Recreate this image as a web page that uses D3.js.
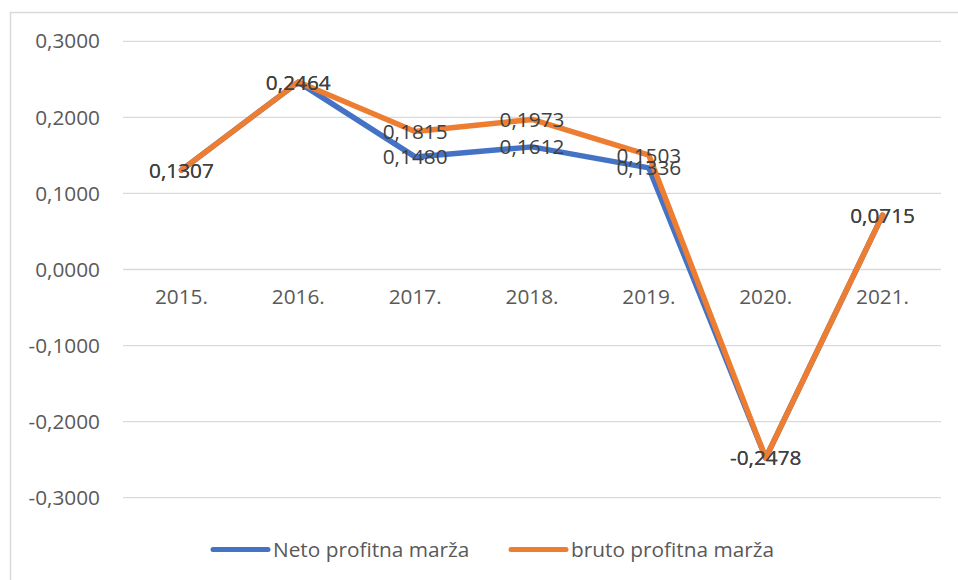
<!DOCTYPE html>
<html><head><meta charset="utf-8">
<script src="https://cdn.jsdelivr.net/npm/d3@7"></script>
<style>body{margin:0;background:#fff}svg{display:block}</style>
</head><body>
<script>
const categories = ["2015.","2016.","2017.","2018.","2019.","2020.","2021."];
const netoValues = [0.1307,0.2464,0.1480,0.1612,0.1336,-0.2478,0.0715];
const brutoValues = [0.1307,0.2464,0.1815,0.1973,0.1503,-0.2478,0.0715];
const yTicks = [-0.3,-0.2,-0.1,0,0.1,0.2,0.3];
const seriesNames = ["Neto profitna marža","bruto profitna marža"];
const colors = ["#4472C4","#ED7D31"];

const W=958,H=580;
const svg=d3.select("body").append("svg").attr("width",W).attr("height",H);
const font="'Open Sans', sans-serif";
const fs=20.8;
svg.append("rect").attr("x",10.5).attr("y",12.5).attr("width",980).attr("height",600)
  .attr("fill","#fff").attr("stroke","#d9d9d9").attr("stroke-width",1.5);

const x=d3.scaleBand().domain(categories).range([123,941]);
const y=d3.scaleLinear().domain([-0.3,0.3]).range([497.7,41.3]);
const fmt=v=>d3.format(".4f")(v).replace(".",",").replace("−","-");

// gridlines
svg.append("g").selectAll("line").data(yTicks).join("line")
  .attr("x1",123).attr("x2",941).attr("y1",d=>y(d)).attr("y2",d=>y(d))
  .attr("stroke","#d9d9d9").attr("stroke-width",1.3);

// y axis
const yAxis=svg.append("g").attr("transform","translate(100,0)")
  .call(d3.axisLeft(y).tickValues(yTicks).tickSize(0).tickPadding(0).tickFormat(fmt));
yAxis.select(".domain").remove();
yAxis.selectAll("text").attr("font-family",font).attr("font-size",fs).attr("fill","#595959");

// x axis at zero
const xAxis=svg.append("g").attr("transform",`translate(0,${y(0)})`)
  .call(d3.axisBottom(x).tickSize(0).tickPadding(20));
xAxis.select(".domain").remove();
xAxis.selectAll("text").attr("font-family",font).attr("font-size",fs).attr("fill","#595959");

const line=d3.line().x((d,i)=>x(categories[i])+x.bandwidth()/2).y(d=>y(d));
const series=[netoValues,brutoValues];
series.forEach((s,k)=>{
  svg.append("path").datum(s).attr("d",line).attr("fill","none")
    .attr("stroke",colors[k]).attr("stroke-width",5.5).attr("stroke-linejoin","round").attr("stroke-linecap","round");
});
series.forEach((s,k)=>{
  svg.append("g").selectAll("text").data(s).join("text")
    .attr("x",(d,i)=>x(categories[i])+x.bandwidth()/2)
    .attr("y",d=>y(d)).attr("dy","0.36em").attr("text-anchor","middle")
    .attr("font-family",font).attr("font-size",fs).attr("fill","#404040")
    .text(fmt);
});

// legend
const lg=svg.append("g");
const legendX=[213,511];
seriesNames.forEach((n,k)=>{
  lg.append("line").attr("x1",legendX[k]).attr("x2",legendX[k]+55).attr("y1",549.5).attr("y2",549.5)
    .attr("stroke",colors[k]).attr("stroke-width",5).attr("stroke-linecap","round");
  lg.append("text").attr("x",legendX[k]+60).attr("y",549.5).attr("dy","0.36em")
    .attr("font-family",font).attr("font-size",fs).attr("fill","#595959").text(n);
});
</script>
</body></html>
